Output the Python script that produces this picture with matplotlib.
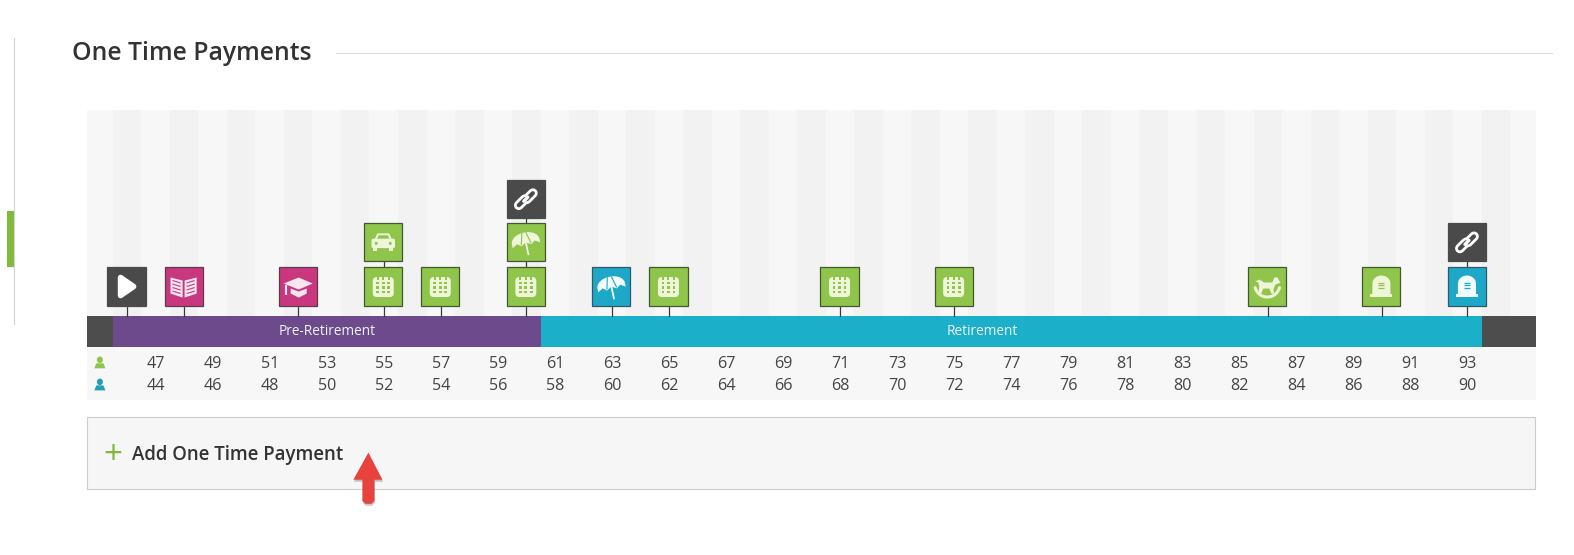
import numpy as np
import matplotlib
matplotlib.use("Agg")
import matplotlib.pyplot as plt
from matplotlib.patches import Rectangle, Polygon, FancyBboxPatch, Ellipse

plt.rcParams['font.family'] = ['Open Sans', 'DejaVu Sans']

TITLE = "One Time Payments"
ADD_LABEL = "Add One Time Payment"
primary_ages = list(range(47, 94, 2))
spouse_ages = list(range(44, 91, 2))
stripe_ages = list(range(46, 95, 2))
region_names = ["", "Pre-Retirement", "Retirement", ""]
region_starts = [44.6, 45.5, 60.5, 93.5]
region_ends = [45.5, 60.5, 93.5, 95.4]
region_label_ages = [None, 53, 76, None]
event_ages = [46, 48, 52, 55, 55, 57, 60, 60, 60, 63, 65, 71, 75, 86, 90, 93, 93]
event_levels = [0, 0, 0, 0, 1, 0, 0, 1, 2, 0, 0, 0, 0, 0, 0, 0, 1]
event_icons = ["play", "book", "grad", "cal", "car", "cal", "cal", "umb", "link", "umb", "cal",
               "cal", "cal", "horse", "tomb", "tomb", "link"]
event_kinds = ["dark", "pink", "pink", "green", "green", "green", "green", "green", "dark", "teal",
               "green", "green", "green", "green", "green", "teal", "dark"]

# Styles
W, H = 1568.0, 553.0            # coordinates as the picture is seen
STEP = 28.41
X47 = 155.0
FILL = {"dark": "#4a4a4a", "pink": "#c9377f", "green": "#8fc54b", "teal": "#1ea8c7"}
EDGE = {"dark": "#4a4a4a", "pink": "#5c3b4d", "green": "#44582f", "teal": "#2d5a6a"}
INK = {"dark": "#ffffff", "pink": "#f7e6ef", "green": "#eef5d8", "teal": "#f2fbfd"}
LEVEL_TOP = [266.5, 222.5, 179.5]
BOX = 38.0

fig = plt.figure(figsize=(15.74, 5.55), dpi=100)
ax = fig.add_axes([0, 0, 1, 1])
ax.set_xlim(47 - X47 / STEP, 47 + (W - X47) / STEP)
ax.set_ylim(H, 0)
ax.axis("off")


def px(x):
    return 47 + (x - X47) / STEP


def dx(d):
    return d / STEP


# left rail and section heading
ax.plot([px(14)] * 2, [38, 323], color="#d2d2d2", lw=.8)
ax.add_patch(Rectangle((px(7), 210), dx(7), 56, fc="#7fba3c", ec="none"))
ax.text(px(72), 53, TITLE, fontsize=17.8, weight=600, color="#333333", va="center", ha="left")
ax.plot([px(335), px(1546)], [53, 53], color="#dcdcdc", lw=.8)

# timeline background
ax.add_patch(Rectangle((region_starts[0], 110), region_ends[-1] - region_starts[0], 205, fc="#f7f7f7", ec="none"))
for a in stripe_ages:
    ax.add_patch(Rectangle((a - .5, 110), 1, 205, fc="#f2f2f2", ec="none"))

# age rows
ax.add_patch(Rectangle((region_starts[0], 346), region_ends[-1] - region_starts[0], 53, fc="#f7f7f7", ec="none"))
for a, s in zip(primary_ages, spouse_ages):
    ax.text(a, 362.5, str(a), ha="center", va="center", fontsize=11.6, color="#444444")
    ax.text(a, 384.5, str(s), ha="center", va="center", fontsize=11.6, color="#444444")


def person(y, c):
    ax.add_patch(Ellipse((px(99.5), y - 3.5), dx(6), 6.5, fc=c, ec="none"))
    ax.add_patch(Polygon([(px(94), y + 5), (px(96), y), (px(103), y), (px(105), y + 5)], fc=c, ec="none"))


person(362, "#8fc54b")
person(384, "#1f9fb5")

# regions
reg_colors = ["#4d4d4d", "#6d4a8c", "#1cafc9", "#4d4d4d"]
for s, e, c, n, l in zip(region_starts, region_ends, reg_colors, region_names, region_label_ages):
    ax.add_patch(Rectangle((s, 315), e - s, 31, fc=c, ec="none"))
    if n:
        ax.text(l, 330, n, color="#eef6f8", ha="center", va="center", fontsize=9.8)


# icons, drawn in box-local pixels about the box centre
def poly(cx, cy, pts, c, **kw):
    ax.add_patch(Polygon([(cx + dx(u), cy + v) for u, v in pts], closed=True, fc=c, ec=kw.pop("ec", "none"), zorder=6, **kw))


def seg(cx, cy, pts, c, lw, cap="butt", z=7):
    ax.plot([cx + dx(u) for u, v in pts], [cy + v for u, v in pts], color=c, lw=lw,
            solid_capstyle=cap, zorder=z)


def icon(name, cx, cy, ink, bg):
    if name == "play":
        poly(cx, cy, [(-6, -9), (7, 0), (-6, 9)], ink, lw=4, joinstyle="round", ec=ink)
    elif name == "book":
        poly(cx, cy, [(-13, -9), (-1, -6), (-1, 11), (-13, 7)], ink)
        poly(cx, cy, [(13, -9), (1, -6), (1, 11), (13, 7)], ink)
        for k in range(4):
            seg(cx, cy, [(-11, -6 + k * 3.5), (-3, -3.5 + k * 3.5)], bg, .8)
            seg(cx, cy, [(11, -6 + k * 3.5), (3, -3.5 + k * 3.5)], bg, .8)
    elif name == "grad":
        poly(cx, cy, [(-14, -3), (1, -9), (15, -3), (1, 3)], ink)
        poly(cx, cy, [(-7, 2), (1, 5), (9, 2), (9, 7), (1, 11), (-7, 7)], ink)
        seg(cx, cy, [(-12, -2), (-12, 8)], ink, 1.5)
    elif name == "cal":
        ax.add_patch(FancyBboxPatch((cx + dx(-7), cy - 6), dx(14), 13, boxstyle="round,pad=0", fc=ink, ec=ink,
                                    lw=5, joinstyle="round", zorder=6))
        for i in (-5.5, 0, 5.5):
            ax.add_patch(Rectangle((cx + dx(i - 1), cy - 9), dx(2), 2, fc=bg, ec="none", zorder=7))
            for j in (-3.5, 1, 5.5):
                ax.add_patch(Rectangle((cx + dx(i - 1.4), cy + j - 1.4), dx(2.8), 2.8, fc=bg, ec="none", zorder=7))
    elif name == "car":
        poly(cx, cy, [(-9, -2), (-6, -9), (6, -9), (9, -2)], ink)
        poly(cx, cy, [(-6.5, -3), (-4.5, -7), (4.5, -7), (6.5, -3)], bg)
        ax.add_patch(FancyBboxPatch((cx + dx(-10), cy - 2), dx(20), 6, boxstyle="round,pad=0", fc=ink, ec=ink, lw=2.5,
                                    joinstyle="round", zorder=6))
        poly(cx, cy, [(-10, 5), (-6, 5), (-6, 9), (-10, 9)], ink)
        poly(cx, cy, [(10, 5), (6, 5), (6, 9), (10, 9)], ink)
        ax.add_patch(Ellipse((cx + dx(-7), cy + 1), dx(3), 3, fc=bg, ec="none", zorder=7))
        ax.add_patch(Ellipse((cx + dx(7), cy + 1), dx(3), 3, fc=bg, ec="none", zorder=7))
    elif name == "umb":
        th = np.radians(-12)

        def rot(p):
            u, v = p
            return (u * np.cos(th) - v * np.sin(th), u * np.sin(th) + v * np.cos(th))

        t = np.linspace(np.pi, 2 * np.pi, 16)
        top = [(14 * np.cos(a), -1 + 9 * np.sin(a)) for a in t]
        edge = [(14, 3), (9, 0), (5, 3), (0, 0), (-5, 3), (-9, 0), (-14, 3)]
        poly(cx, cy, [rot(p) for p in top + edge], ink)
        for u in (-5, 5):
            seg(cx, cy, [rot((u * .4, -10)), rot((u, 2))], bg, .8)
        seg(cx, cy, [rot((0, -1)), rot((0, 13))], ink, 1.3)
    elif name == "link":
        for a, b in (((-7, 6), (-1, 0)), ((7, -6), (1, 0))):
            seg(cx, cy, [a, b], ink, 7, "round", 7)
            seg(cx, cy, [a, b], bg, 3, "round", 8)
        seg(cx, cy, [(-2, 2), (2, -2)], ink, 2.4, "round", 9)
    elif name == "tomb":
        t = np.linspace(np.pi, 2 * np.pi, 16)
        poly(cx, cy, [(9 * np.cos(a), -3 + 8 * np.sin(a)) for a in t] + [(9, 8), (-9, 8)], ink)
        poly(cx, cy, [(-11, 7), (11, 7), (11, 10), (-11, 10)], ink)
        for k in (-4, -1.5, 1):
            seg(cx, cy, [(-3, k), (3, k)], bg, .9)
    elif name == "horse":
        poly(cx, cy, [(-12, -5), (-8, -7), (-3, -4), (5, -4), (7, -9), (10, -9), (13, -4), (11, -3), (8, -2), (6, 3),
                      (7, 7), (4, 7), (2, 2), (-4, 2), (-6, 7), (-9, 7), (-8, 0), (-9, -4)], ink)
        t = np.linspace(0.08 * np.pi, 0.92 * np.pi, 18)
        seg(cx, cy, [(12.5 * np.cos(a), -2 + 12.5 * np.sin(a)) for a in t], ink, 2.2, "round")


# connectors first, boxes on top, all read from the event lists
for a, lvl, name, kind in zip(event_ages, event_levels, event_icons, event_kinds):
    top = LEVEL_TOP[lvl]
    ax.plot([a, a], [top + BOX, 315 if lvl == 0 else LEVEL_TOP[lvl - 1]], color="#3b3b3b", lw=.9, zorder=3)
    ax.add_patch(Rectangle((a - dx(BOX / 2 + .5), top), dx(BOX), BOX, fc=FILL[kind], ec=EDGE[kind], lw=.9, zorder=5))
    icon(name, a - dx(.5), top + BOX / 2, INK[kind], FILL[kind])

# add panel
ax.add_patch(Rectangle((px(87), 415), dx(1442.5), 72.5, fc="#f6f6f6", ec="#cccccc", lw=.8))
ax.text(px(112.5), 454, "+", color="#7fba3c", fontsize=24, ha="center", va="center")
ax.text(px(131), 453, ADD_LABEL, fontsize=13.4, weight=600, color="#333333", ha="left", va="center")

# red arrow annotation
arrow = [(367, 451), (381, 478), (373, 478), (373, 499), (370, 502), (364, 502), (361, 499), (361, 478), (352, 478)]
ax.add_patch(Polygon([(px(u + .5), v + 2) for u, v in arrow], fc="#000000", alpha=.22, ec="none", zorder=8))
ax.add_patch(Polygon([(px(u), v) for u, v in arrow], fc="#e8423f", ec="none", zorder=9))

fig.savefig("out.png", dpi=100, facecolor="white")
